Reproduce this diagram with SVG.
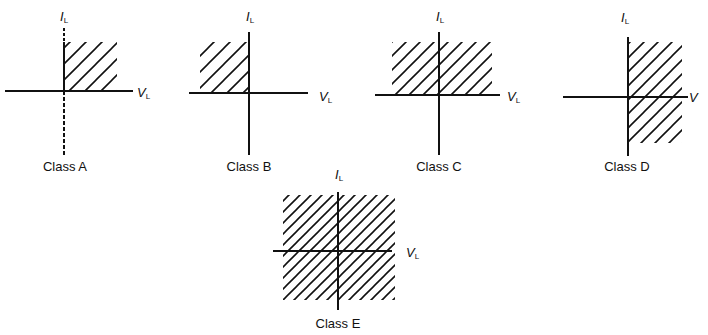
<svg xmlns="http://www.w3.org/2000/svg" width="708" height="335" viewBox="0 0 708 335">
<style>
.ax{stroke:#111;stroke-width:2;fill:none}
.cap{font-family:"Liberation Sans",Arial,sans-serif;font-size:13px;fill:#111;text-anchor:middle}
.var{font-family:"Liberation Sans",Arial,sans-serif;font-size:13px;font-style:italic;fill:#111}
.sub{font-size:8px;font-style:normal}
</style>
<defs>
<pattern id="h16" width="16" height="16" patternUnits="userSpaceOnUse"><path d="M-4,4 L4,-4 M0,16 L16,0 M12,20 L20,12" stroke="#111" stroke-width="1.6"/></pattern>
<pattern id="h14" width="14" height="14" patternUnits="userSpaceOnUse"><path d="M-4,4 L4,-4 M0,14 L14,0 M10,18 L18,10" stroke="#111" stroke-width="1.6"/></pattern>
<pattern id="h11" width="11" height="11" patternUnits="userSpaceOnUse"><path d="M-4,4 L4,-4 M0,11 L11,0 M7,15 L15,7" stroke="#111" stroke-width="1.6"/></pattern>
</defs>
<rect width="708" height="335" fill="#fff"/>
<g id="classA">
<rect x="64" y="42" width="53" height="49" fill="url(#h16)"/>
<line class="ax" x1="64" y1="28" x2="64" y2="42" stroke-dasharray="3,2"/>
<line class="ax" x1="64" y1="42" x2="64" y2="91"/>
<line class="ax" x1="64" y1="91" x2="64" y2="155" stroke-dasharray="4,2"/>
<line class="ax" x1="5" y1="91" x2="133" y2="91"/>
<text class="var" x="60" y="21">I<tspan class="sub" dy="2">L</tspan></text>
<text class="var" x="137" y="97">V<tspan class="sub" dy="2">L</tspan></text>
<text class="cap" x="65" y="171">Class A</text>
</g>
<g id="classB">
<rect x="200" y="42" width="49" height="51" fill="url(#h16)"/>
<line class="ax" x1="249" y1="32" x2="249" y2="155"/>
<line class="ax" x1="189" y1="93" x2="308" y2="93"/>
<text class="var" x="246" y="21">I<tspan class="sub" dy="2">L</tspan></text>
<text class="var" x="319" y="101">V<tspan class="sub" dy="2">L</tspan></text>
<text class="cap" x="249" y="171">Class B</text>
</g>
<g id="classC">
<rect x="392" y="42" width="100" height="53" fill="url(#h14)"/>
<line class="ax" x1="439" y1="32" x2="439" y2="155"/>
<line class="ax" x1="375" y1="95" x2="500" y2="95"/>
<text class="var" x="436" y="21">I<tspan class="sub" dy="2">L</tspan></text>
<text class="var" x="507" y="101">V<tspan class="sub" dy="2">L</tspan></text>
<text class="cap" x="439" y="171">Class C</text>
</g>
<g id="classD">
<rect x="628" y="42" width="54" height="101" fill="url(#h14)"/>
<line class="ax" x1="628" y1="37" x2="628" y2="156"/>
<line class="ax" x1="563" y1="97" x2="688" y2="97"/>
<text class="var" x="621" y="22">I<tspan class="sub" dy="2">L</tspan></text>
<text class="var" x="689" y="102">V</text>
<text class="cap" x="627" y="171">Class D</text>
</g>
<g id="classE">
<rect x="283" y="195" width="112" height="105" fill="url(#h11)"/>
<line class="ax" x1="338" y1="192" x2="338" y2="310"/>
<line class="ax" x1="273" y1="251" x2="392" y2="251"/>
<text class="var" x="335" y="179">I<tspan class="sub" dy="2">L</tspan></text>
<text class="var" x="406" y="257">V<tspan class="sub" dy="2">L</tspan></text>
<text class="cap" x="338" y="328">Class E</text>
</g>
<g id="connectors"/>
</svg>
